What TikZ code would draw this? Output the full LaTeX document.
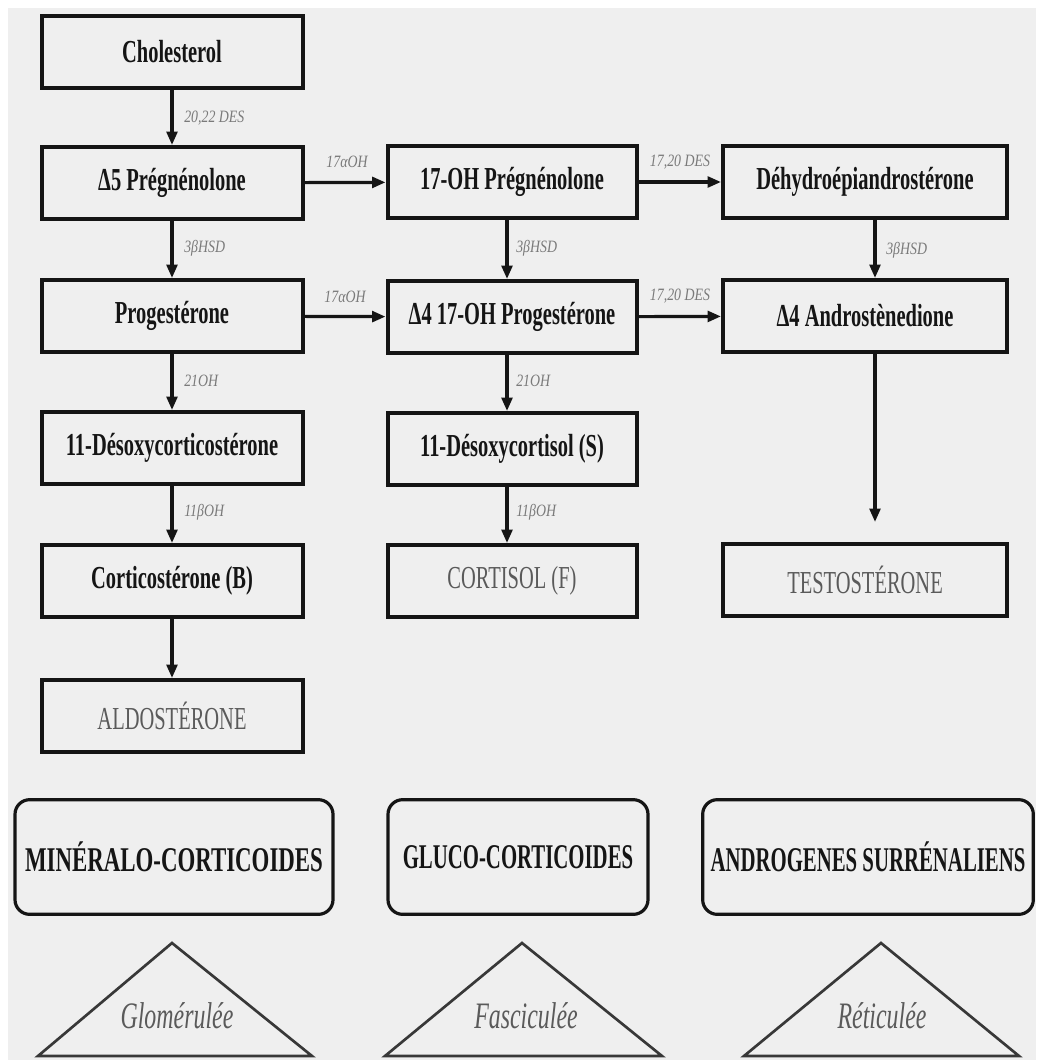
\documentclass[tikz,border=0pt]{standalone}
\usepackage{fontspec}
\setmainfont{Liberation Serif}
\newfontfamily\boxfont[FakeStretch=0.64]{Liberation Serif}
\newfontfamily\classfont[FakeStretch=0.66]{Liberation Serif}
\newfontfamily\narrowclassfont[FakeStretch=0.6]{Liberation Serif}
\newfontfamily\labfont[FakeStretch=0.8]{Liberation Serif}
\usetikzlibrary{arrows.meta}
\definecolor{bg}{HTML}{EFEFEF}
\definecolor{ink}{HTML}{151515}
\definecolor{softtxt}{HTML}{5A5A5A}
\definecolor{labtxt}{HTML}{7A7A7A}
\tikzset{
  box/.style={draw=ink, line width=3pt, inner sep=0pt, minimum height=54pt,
    font=\boxfont\bfseries\fontsize{24}{26}\selectfont, text=ink},
  c1/.style={minimum width=195.75pt},
  c2/.style={minimum width=186.75pt},
  c3/.style={minimum width=213pt},
  softbox/.style={box, font=\boxfont\fontsize{24}{26}\selectfont, text=softtxt},
  rbox/.style={draw=ink, line width=2.4pt, rounded corners=11pt, inner sep=0pt,
    minimum height=86pt, font=\classfont\bfseries\fontsize{26}{28}\selectfont, text=ink},
  narrowclass/.style={font=\narrowclassfont\bfseries\fontsize{26}{28}\selectfont},
  lab/.style={font=\labfont\itshape\fontsize{13}{14}\selectfont, text=labtxt, inner sep=0pt},
  arr/.style={draw=ink, line width=2.4pt, -{Triangle[length=10pt,width=8pt]}},
  tri/.style={draw=ink!85, line width=2pt, line join=miter},
  zone/.style={font=\boxfont\itshape\fontsize{28}{30}\selectfont, text=softtxt}
}
\begin{document}
\begin{tikzpicture}[x=0.75pt,y=-0.75pt]
\useasboundingbox (0,0) rectangle (1036,1060);
\fill[white] (0,0) rectangle (1036,1060);
\fill[bg] (8,8) rectangle (1036,1060);

% column 1
\node[box,c1] (chol) at (172,52) {Cholesterol};
\node[box,c1] (preg) at (172,183) {Δ5 Prégnénolone};
\node[box,c1] (prog) at (172,316) {Progestérone};
\node[box,c1] (doc) at (172,448) {11-Désoxycorticostérone};
\node[box,c1] (cort) at (172,581) {Corticostérone (B)};
\node[softbox,c1] (aldo) at (172,716) {ALDOSTÉRONE};

% column 2
\node[box,c2] (ohpreg) at (512,182) {17-OH Prégnénolone};
\node[box,c2] (ohprog) at (512,317) {Δ4 17-OH Progestérone};
\node[box,c2] (doxy) at (512,449) {11-Désoxycortisol (S)};
\node[softbox,c2] (cortisol) at (512,581) {CORTISOL (F)};

% column 3
\node[box,c3] (dhea) at (865,182) {Déhydroépiandrostérone};
\node[box,c3] (andro) at (865,316) {Δ4 Androstènedione};
\node[softbox,c3] (testo) at (865,580) {TESTOSTÉRONE};
\coordinate (testoin) at (875,522);

% vertical arrows
\draw[arr] (chol) -- (preg);
\draw[arr] (preg) -- (prog);
\draw[arr] (prog) -- (doc);
\draw[arr] (doc) -- (cort);
\draw[arr] (cort) -- (aldo);
\draw[arr] ([xshift=-3.75pt]ohpreg.south) -- ([xshift=-3.75pt]ohprog.north);
\draw[arr] ([xshift=-3.75pt]ohprog.south) -- ([xshift=-3.75pt]doxy.north);
\draw[arr] ([xshift=-3.75pt]doxy.south) -- ([xshift=-3.75pt]cortisol.north);
\draw[arr] ([xshift=7.5pt]dhea.south) -- ([xshift=7.5pt]andro.north);
\draw[arr] (andro.south -| testoin) -- (testoin);

% horizontal arrows
\draw[arr] (preg) -- (ohpreg);
\draw[arr] (prog) -- (ohprog);
\draw[arr] (ohpreg) -- (dhea);
\draw[arr] (ohprog) -- (andro);

% enzyme labels
\node[lab, anchor=west] (l1) at (184,118) {20,22 DES};
\node[lab, anchor=west] (l2) at (184,248) {3βHSD};
\node[lab, anchor=west] (l3) at (184,381) {21OH};
\node[lab, anchor=west] (l4) at (184,512) {11βOH};
\node[lab] (l5) at (347,162) {17αOH};
\node[lab] (l6) at (345,297) {17αOH};
\node[lab, anchor=west] (l7) at (516,248) {3βHSD};
\node[lab, anchor=west] (l8) at (516,381) {21OH};
\node[lab, anchor=west] (l9) at (516,512) {11βOH};
\node[lab] (l10) at (680,162) {17,20 DES};
\node[lab] (l11) at (680,296) {17,20 DES};
\node[lab, anchor=west] (l12) at (886,250) {3βHSD};

% class boxes
\node[rbox, minimum width=238.5pt] (mineral) at (174,857) {MINÉRALO-CORTICOIDES};
\node[rbox, narrowclass, minimum width=195pt] (gluco) at (518,857) {GLUCO-CORTICOIDES};
\node[rbox, narrowclass, minimum width=248pt] (andr) at (868,857) {ANDROGENES SURRÉNALIENS};

% zones
\draw[tri] (172,943) -- (312,1056) -- (38,1056) -- cycle;
\draw[tri] (522,943) -- (662,1056) -- (385,1056) -- cycle;
\draw[tri] (881,943) -- (1019,1056) -- (744,1056) -- cycle;
\node[zone] (glom) at (177,1016) {Glomérulée};
\node[zone] (fasc) at (526,1016) {Fasciculée};
\node[zone] (reti) at (882,1016) {Réticulée};
\end{tikzpicture}
\end{document}
